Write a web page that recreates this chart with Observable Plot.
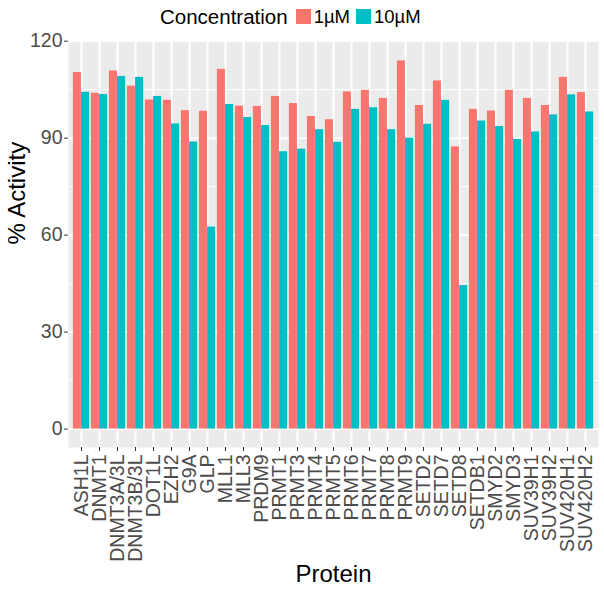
<!DOCTYPE html>
<html>
<head>
<meta charset="utf-8">
<script src="https://cdn.jsdelivr.net/npm/d3@7"></script>
<script src="https://cdn.jsdelivr.net/npm/@observablehq/plot@0.6"></script>
<style>
  body { margin: 0; background: #fff; font-family: "Liberation Sans", Arial, sans-serif; }
  #legend { height: 33px; display: flex; align-items: center; padding-left: 160px; box-sizing: border-box; }
  #legend .title { font-size: 20.5px; color: #000; margin-right: 8px; }
  #legend .key { width: 15px; height: 15px; margin-right: 3px; }
  #legend .lab { font-size: 18.5px; color: #000; margin-right: 6px; }
</style>
</head>
<body>
<div id="legend"></div>
<div id="chart"></div>
<script>
const proteins = ["ASH1L","DNMT1","DNMT3A/3L","DNMT3B/3L","DOT1L","EZH2","G9A","GLP","MLL1","MLL3","PRDM9","PRMT1","PRMT3","PRMT4","PRMT5","PRMT6","PRMT7","PRMT8","PRMT9","SETD2","SETD7","SETD8","SETDB1","SMYD2","SMYD3","SUV39H1","SUV39H2","SUV420H1","SUV420H2"];
const activity1uM  = [110.3,103.9,110.8,106.1,101.8,101.7,98.5,98.3,111.3,99.9,99.8,102.9,100.7,96.7,95.7,104.3,104.8,102.3,113.9,100.1,107.7,87.3,98.9,98.4,104.8,102.3,100.1,108.8,104.1];
const activity10uM = [104.2,103.5,109.1,108.8,102.9,94.4,88.8,62.5,100.4,96.4,93.9,85.8,86.6,92.6,88.7,98.9,99.4,92.6,90.0,94.3,101.7,44.4,95.3,93.6,89.6,91.9,97.2,103.4,98.1];
const concentrations = ["1µM", "10µM"];
const colors = ["#F8766D", "#00BFC4"];
const yTicks = [0, 30, 60, 90, 120];
const yMinor = [15, 45, 75, 105];

const rows = [];
proteins.forEach((p, i) => {
  rows.push({protein: p, conc: concentrations[0], value: activity1uM[i]});
  rows.push({protein: p, conc: concentrations[1], value: activity10uM[i]});
});

// legend
const leg = document.getElementById("legend");
leg.innerHTML = `<span class="title">Concentration</span>` +
  concentrations.map((c, i) => `<span class="key" style="background:${colors[i]}"></span><span class="lab">${c}</span>`).join("");

const W = 604, H = 556;
const mL = 68, mR = 6, mT = 8, mB = 142;
const step = (W - mL - mR) / (proteins.length + 0.2);
const inOuter = 0.05 * step, inMid = 0.5 * step;

const chart = Plot.plot({
  width: W,
  height: H,
  marginLeft: mL,
  marginRight: mR,
  marginTop: mT,
  marginBottom: mB,
  style: {fontFamily: "Liberation Sans, Arial, sans-serif", background: "#fff", overflow: "visible"},
  x: {type: "band", domain: proteins, paddingInner: 0, paddingOuter: 0.1, label: null},
  y: {domain: [-5.7, 119.9], label: null},
  color: {domain: concentrations, range: colors},
  marks: [
    Plot.frame({fill: "#EBEBEB", stroke: null}),
    Plot.ruleY(yMinor, {stroke: "#fff", strokeWidth: 1}),
    Plot.ruleY(yTicks, {stroke: "#fff", strokeWidth: 2}),
    Plot.ruleX(proteins, {x: d => d, stroke: "#fff", strokeWidth: 2}),
    Plot.barY(rows.filter(d => d.conc === concentrations[0]), {x: "protein", y1: 0, y2: "value", fill: colors[0], insetLeft: inOuter, insetRight: inMid}),
    Plot.barY(rows.filter(d => d.conc === concentrations[1]), {x: "protein", y1: 0, y2: "value", fill: colors[1], insetLeft: inMid, insetRight: inOuter}),
    Plot.axisY(yTicks, {tickSize: 4, tickPadding: 2, fontSize: 19.5, color: "#4D4D4D", stroke: "#333", label: null}),
    Plot.axisX({tickSize: 4, tickPadding: 3, tickRotate: -90, fontSize: 19.5, color: "#4D4D4D", stroke: "#333", label: null}),
    Plot.text(["% Activity"], {text: d => d, frameAnchor: "left", dx: -51, rotate: -90, fontSize: 24, fill: "#000"}),
    Plot.text(["Protein"], {text: d => d, frameAnchor: "bottom", dy: 134, fontSize: 24, fill: "#000"})
  ]
});
document.getElementById("chart").appendChild(chart);
</script>
</body>
</html>
